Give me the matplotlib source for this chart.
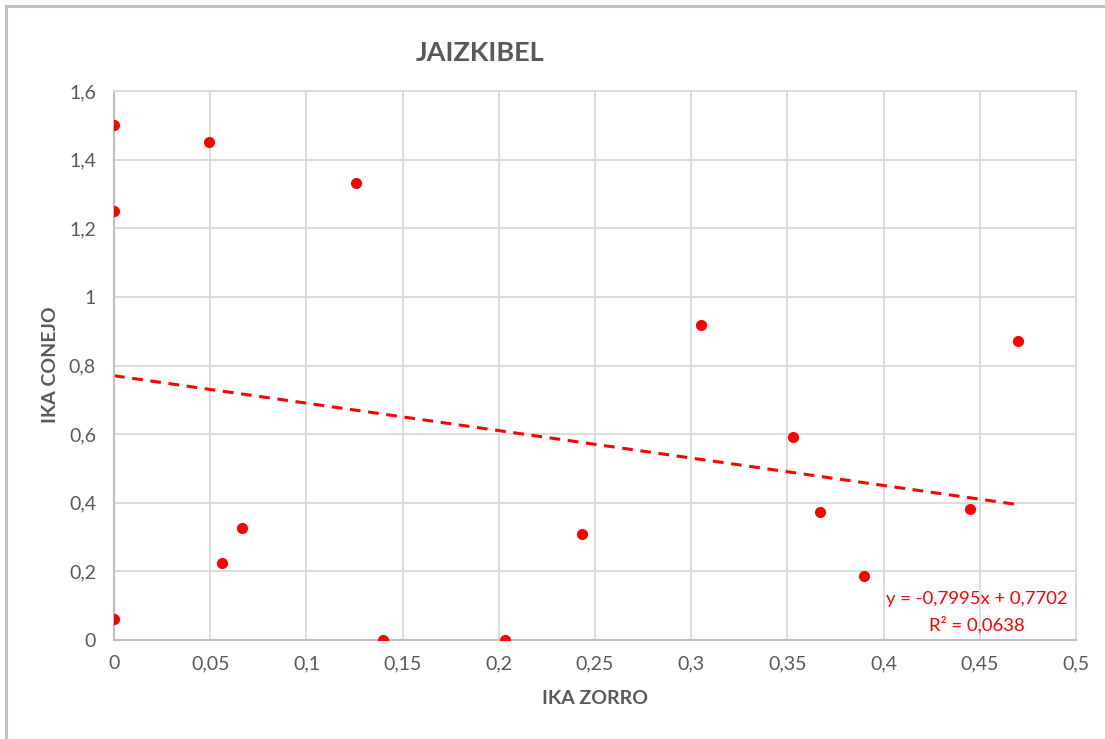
import numpy as np
import matplotlib.pyplot as plt
from matplotlib.lines import Line2D

# IKA values
ika_zorro = [0, 0, 0, 0.0494, 0.056, 0.0666, 0.126, 0.140, 0.203,
             0.243, 0.305, 0.353, 0.367, 0.390, 0.445, 0.470]
ika_conejo = [1.5, 1.25, 0.06, 1.45, 0.225, 0.325, 1.332, 0, 0,
              0.309, 0.918, 0.592, 0.373, 0.187, 0.382, 0.871]
slope = -0.7995
intercept = 0.7702
r2 = 0.0638

x_ticks = [0, 0.05, 0.1, 0.15, 0.2, 0.25, 0.3, 0.35, 0.4, 0.45, 0.5]
y_ticks = [0, 0.2, 0.4, 0.6, 0.8, 1, 1.2, 1.4, 1.6]

def fmt(v):
    return ('%g' % v).replace('.', ',')

plt.rcParams['font.family'] = ['Lato', 'DejaVu Sans']

W, H = 1105, 739
fig = plt.figure(figsize=(W/100, H/100), dpi=100)
ax = fig.add_axes([114/W, 1-640/H, (1076-114)/W, (640-91)/H])

# outer chart border (top and left visible)
fig.add_artist(Line2D([6/W, 6/W], [0, 1-6/H], color='#c0c0c0', lw=2.2,
                      transform=fig.transFigure))
fig.add_artist(Line2D([6/W, 1], [1-6/H, 1-6/H], color='#c0c0c0', lw=2.2,
                      transform=fig.transFigure))

ax.scatter(ika_zorro, ika_conejo, s=64, color='#ff0000', zorder=3, linewidths=0)

# linear trendline
tx = np.array([0, max(ika_zorro)])
ax.plot(tx, slope*tx + intercept, color='#ff0000', lw=2.2, dashes=(3.5, 2.5), zorder=2)

ax.set_xlim(0, 0.5)
ax.set_ylim(0, 1.6)
ax.set_xticks(x_ticks)
ax.set_yticks(y_ticks)
ax.set_xticklabels([fmt(v) for v in x_ticks])
ax.set_yticklabels([fmt(v) for v in y_ticks])
ax.tick_params(length=0, labelsize=14, colors='#595959')
ax.tick_params(axis='x', pad=11)
ax.tick_params(axis='y', pad=13)
ax.grid(True, color='#d9d9d9', lw=1.3)
ax.set_axisbelow(True)
for s in ['top', 'right']:
    ax.spines[s].set_color('#d9d9d9')
    ax.spines[s].set_linewidth(1.3)
for s in ['left', 'bottom']:
    ax.spines[s].set_color('#bfbfbf')
    ax.spines[s].set_linewidth(1.5)

fig.text(595/W, 1-699/H, 'IKA ZORRO', fontsize=14, fontweight='bold',
         color='#595959', ha='center', va='center')
fig.text(50/W, 1-365/H, 'IKA CONEJO', fontsize=14, fontweight='bold',
         color='#595959', ha='center', va='center', rotation=90)

fig.text(480/W, 1-53/H, 'JAIZKIBEL', fontsize=19.5, fontweight='bold',
         color='#595959', ha='center', va='center')

fig.text(977/W, 1-599/H, 'y = ' + fmt(slope) + 'x + ' + fmt(intercept),
         fontsize=13.3, color='#ff0000', ha='center', va='center')
fig.text(977/W, 1-625/H, 'R² = ' + fmt(r2),
         fontsize=13.3, color='#ff0000', ha='center', va='center')

fig.savefig('out.png', dpi=100)
